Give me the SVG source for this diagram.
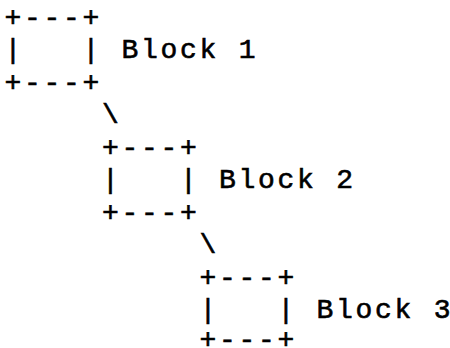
<svg xmlns="http://www.w3.org/2000/svg" width="450" height="348" viewBox="0 0 450 348">
  <style>
    text {
      font-family: "Liberation Mono", "DejaVu Sans Mono", monospace;
      font-size: 28px;
      letter-spacing: 2.7px;
      fill: #000;
      stroke: #000;
      stroke-width: 0.6px;
      white-space: pre;
    }
    .last { letter-spacing: 0; }
  </style>
  <rect width="450" height="348" fill="#fff"/>

  <!-- blocks: one ASCII box per node, 19.5px column pitch, 32.5px row pitch -->
  <g id="block1">
    <text x="4.6" y="25.5">+---<tspan class="last">+</tspan></text>
    <text x="4.6" y="58">|   | Block <tspan class="last">1</tspan></text>
    <text x="4.6" y="90.5">+---<tspan class="last">+</tspan></text>
  </g>
  <g id="block2">
    <text x="102.1" y="155.5">+---<tspan class="last">+</tspan></text>
    <text x="102.1" y="188">|   | Block <tspan class="last">2</tspan></text>
    <text x="102.1" y="220.5">+---<tspan class="last">+</tspan></text>
  </g>
  <g id="block3">
    <text x="199.6" y="285.5">+---<tspan class="last">+</tspan></text>
    <text x="199.6" y="318">|   | Block <tspan class="last">3</tspan></text>
    <text x="199.6" y="347.5">+---<tspan class="last">+</tspan></text>
  </g>

  <!-- diagonal links between consecutive blocks -->
  <g id="connectors">
    <text x="102.1" y="123" class="last">\</text>
    <text x="199.6" y="253" class="last">\</text>
  </g>
</svg>
